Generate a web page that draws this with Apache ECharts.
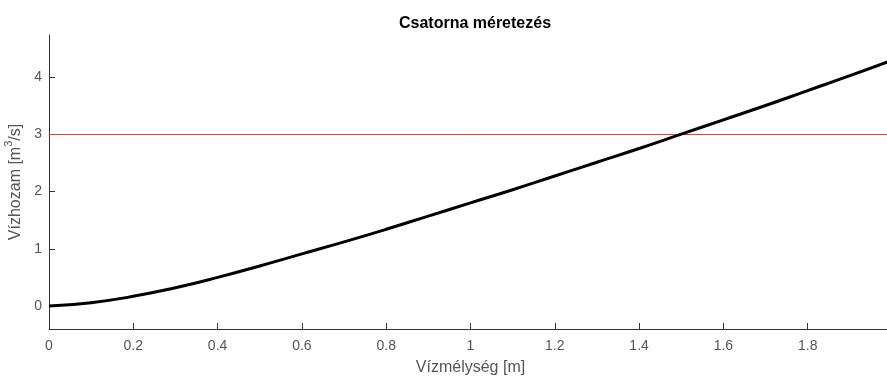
<!DOCTYPE html>
<html>
<head>
<meta charset="utf-8">
<script src="https://cdn.jsdelivr.net/npm/echarts@6/dist/echarts.min.js"></script>
<style>
html,body{margin:0;padding:0;background:#fff;}
#c{width:887px;height:377px;}
</style>
</head>
<body>
<div id="c"></div>
<script>
var titleText = 'Csatorna méretezés';
var xName = 'Vízmélység [m]';
var yNameParts = ['Vízhozam [m', '3', '/s]'];
var depth = [0, 0.1, 0.2, 0.3, 0.4, 0.5, 0.6, 0.7, 0.8, 0.9, 1.0, 1.1, 1.2, 1.3, 1.4, 1.5, 1.6, 1.7, 1.8, 1.9, 2.0];
var discharge = [0, 0.06, 0.17, 0.32, 0.5, 0.7, 0.91, 1.12, 1.34, 1.57, 1.8, 2.03, 2.27, 2.51, 2.75, 3.0, 3.25, 3.5, 3.76, 4.02, 4.29];
var targetQ = 3;
var yTicks = [0, 1, 2, 3, 4];
var xRange = [0, 2];
var yRange = [-0.4, 4.73];

var chart = echarts.init(document.getElementById('c'));
var pts = depth.map(function (d, i) { return [d, discharge[i]]; });
var font = 'Liberation Sans';
chart.setOption({
  animation: false,
  backgroundColor: '#fff',
  title: {
    text: titleText, left: 470, top: 11, textAlign: 'center',
    textStyle: { fontFamily: font, fontSize: 16, fontWeight: 'bold', color: '#000' }
  },
  grid: { left: 49, right: -5, top: 35, bottom: 48, containLabel: false, outerBoundsMode: 'none' },
  xAxis: {
    type: 'value', min: xRange[0], max: xRange[1], interval: 0.2,
    name: xName, nameLocation: 'middle', nameGap: 31,
    nameTextStyle: { fontFamily: font, fontSize: 16, color: '#555' },
    axisLine: { show: true, onZero: false, lineStyle: { color: '#333', width: 1 } },
    axisTick: { show: true, inside: true, length: 6, lineStyle: { color: '#333' } },
    axisLabel: { fontFamily: font, fontSize: 14, color: '#555', margin: 10, showMaxLabel: true },
    splitLine: { show: false }
  },
  yAxis: {
    type: 'value', min: yRange[0], max: yRange[1],
    name: '{a|' + yNameParts[0] + '}{s|' + yNameParts[1] + '}{a|' + yNameParts[2] + '}',
    nameLocation: 'middle', nameGap: 24,
    nameTextStyle: {
      fontFamily: font, fontSize: 16, color: '#555',
      rich: {
        a: { fontFamily: font, fontSize: 16, color: '#555', lineHeight: 20, verticalAlign: 'bottom' },
        s: { fontFamily: font, fontSize: 11, color: '#555', lineHeight: 20, verticalAlign: 'top' }
      }
    },
    axisLine: { show: true, onZero: false, lineStyle: { color: '#333', width: 1 } },
    axisTick: { show: true, inside: true, length: 6, customValues: yTicks, lineStyle: { color: '#333' } },
    axisLabel: { fontFamily: font, fontSize: 14, color: '#555', margin: 7, customValues: yTicks },
    splitLine: { show: false }
  },
  series: [{
    type: 'line', data: pts, smooth: true, showSymbol: false,
    lineStyle: { color: '#000', width: 3 },
    z: 3,
    markLine: {
      silent: true, symbol: 'none', label: { show: false },
      lineStyle: { color: '#e04040', width: 1, type: 'solid' },
      data: [{ yAxis: targetQ }],
      z: 2
    }
  }]
});
</script>
</body>
</html>
